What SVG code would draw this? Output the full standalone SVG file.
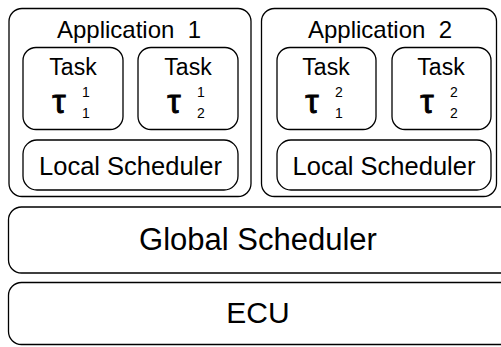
<svg xmlns="http://www.w3.org/2000/svg" width="501" height="347" viewBox="0 0 501 347">
<style>
.box{fill:#fff;stroke:#000;stroke-width:1.3}
text{font-family:"Liberation Sans",Arial,sans-serif;fill:#000;text-anchor:middle}
.app{font-size:24px}
.task{font-size:23px}
.loc{font-size:25.5px}
.big{font-size:30px}
.tau{font-size:34px;stroke:#000;stroke-width:0.9}
.sc{font-size:14px;text-anchor:start}
</style>
<rect width="501" height="347" fill="#fff"/>
<g id="app1">
<rect class="box" x="9" y="8.5" width="242" height="188" rx="13"/>
<text class="app" x="129" y="38" xml:space="preserve">Application  1</text>
</g>
<g id="task11">
<rect class="box" x="23" y="47.5" width="100" height="82" rx="13"/>
<text class="task" x="73" y="75">Task</text>
<text class="tau" x="59" y="113">τ</text>
<text class="sc" x="82" y="97">1</text>
<text class="sc" x="82" y="118">1</text>
</g>
<g id="task12">
<rect class="box" x="138" y="47.5" width="100" height="82" rx="13"/>
<text class="task" x="188" y="75">Task</text>
<text class="tau" x="174" y="113">τ</text>
<text class="sc" x="197" y="97">1</text>
<text class="sc" x="197" y="118">2</text>
</g>
<g id="local1">
<rect class="box" x="23" y="140" width="215" height="50" rx="14"/>
<text class="loc" x="130.5" y="175">Local Scheduler</text>
</g>
<g id="app2">
<rect class="box" x="261.5" y="8.5" width="235" height="188" rx="13"/>
<text class="app" x="380" y="38" xml:space="preserve">Application  2</text>
</g>
<g id="task21">
<rect class="box" x="277" y="47.5" width="99" height="82" rx="13"/>
<text class="task" x="326" y="75">Task</text>
<text class="tau" x="312" y="113">τ</text>
<text class="sc" x="335" y="97">2</text>
<text class="sc" x="335" y="118">1</text>
</g>
<g id="task22">
<rect class="box" x="392" y="47.5" width="99" height="82" rx="13"/>
<text class="task" x="441" y="75">Task</text>
<text class="tau" x="427" y="113">τ</text>
<text class="sc" x="450" y="97">2</text>
<text class="sc" x="450" y="118">2</text>
</g>
<g id="local2">
<rect class="box" x="277" y="140" width="214" height="50" rx="14"/>
<text class="loc" x="384" y="175">Local Scheduler</text>
</g>
<g id="global">
<rect class="box" x="8.5" y="207" width="510" height="66" rx="13"/>
<text class="big" x="258" y="250" style="font-size:31px">Global Scheduler</text>
</g>
<g id="ecu">
<rect class="box" x="8.5" y="282.5" width="510" height="62" rx="13"/>
<text class="big" x="258" y="323">ECU</text>
</g>
<g id="connectors"></g>
</svg>
